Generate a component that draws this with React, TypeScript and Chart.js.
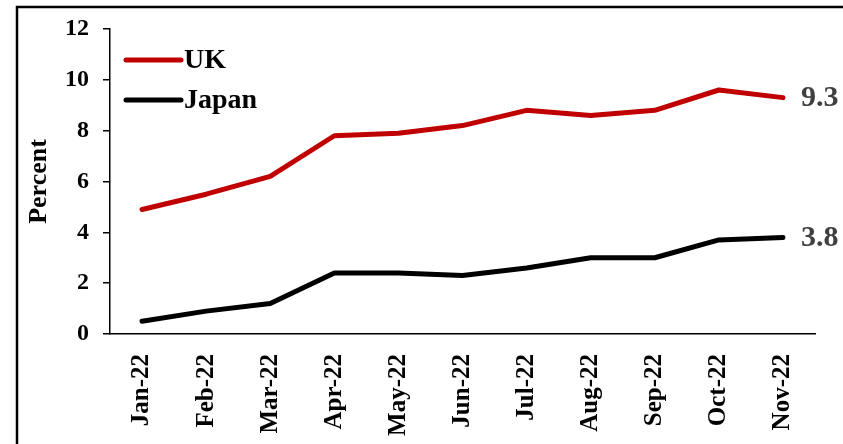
import React, { useEffect, useRef } from "react";
import { Chart, registerables } from "chart.js";

Chart.register(...registerables);

const categories = ["Jan-22", "Feb-22", "Mar-22", "Apr-22", "May-22", "Jun-22", "Jul-22", "Aug-22", "Sep-22", "Oct-22", "Nov-22"];
const ukValues = [4.9, 5.5, 6.2, 7.8, 7.9, 8.2, 8.8, 8.6, 8.8, 9.6, 9.3];
const japanValues = [0.5, 0.9, 1.2, 2.4, 2.4, 2.3, 2.6, 3.0, 3.0, 3.7, 3.8];
const seriesNames = ["UK", "Japan"];
const seriesColors = ["#C00000", "#000000"];
const endLabels = ["9.3", "3.8"];

const FONT = "'Liberation Serif', 'Times New Roman', serif";

const framePlugin = {
  id: "frame",
  afterDraw(chart: any) {
    const ctx = chart.ctx;
    ctx.save();
    ctx.strokeStyle = "#000";
    ctx.lineWidth = 2.5;
    ctx.strokeRect(17, 7, 1000, 1000);
    ctx.restore();
  },
};

const legendPlugin = {
  id: "customLegend",
  afterDraw(chart: any) {
    const ctx = chart.ctx;
    const area = chart.chartArea;
    ctx.save();
    chart.data.datasets.forEach((ds: any, i: number) => {
      const y = area.top + 31 + i * 40;
      const x0 = area.left + 16;
      ctx.strokeStyle = ds.borderColor;
      ctx.lineWidth = 5;
      ctx.lineCap = "round";
      ctx.beginPath();
      ctx.moveTo(x0, y);
      ctx.lineTo(x0 + 55, y);
      ctx.stroke();
      ctx.fillStyle = "#000";
      ctx.font = `bold 28px ${FONT}`;
      ctx.textAlign = "left";
      ctx.textBaseline = "middle";
      ctx.fillText(ds.label, x0 + 58, y + 1);
    });
    ctx.restore();
  },
};

const endLabelPlugin = {
  id: "endLabels",
  afterDatasetsDraw(chart: any) {
    const ctx = chart.ctx;
    ctx.save();
    ctx.fillStyle = "#404040";
    ctx.font = `bold 30px ${FONT}`;
    ctx.textAlign = "left";
    ctx.textBaseline = "middle";
    chart.data.datasets.forEach((ds: any, i: number) => {
      const meta = chart.getDatasetMeta(i);
      const pt = meta.data[meta.data.length - 1];
      ctx.fillText(endLabels[i], pt.x + 18, pt.y + 1);
    });
    ctx.restore();
  },
};

export default function App() {
  const ref = useRef<HTMLCanvasElement | null>(null);
  useEffect(() => {
    if (!ref.current) return;
    const chart = new Chart(ref.current, {
      type: "line",
      data: {
        labels: categories,
        datasets: [ukValues, japanValues].map((vals, i) => ({
          label: seriesNames[i],
          data: vals,
          borderColor: seriesColors[i],
          backgroundColor: seriesColors[i],
          borderWidth: 5,
          borderCapStyle: "round",
          borderJoinStyle: "round",
          pointRadius: 0,
          tension: 0,
        })),
      },
      options: {
        responsive: false,
        animation: false,
        layout: { padding: { left: 20, top: 29, right: 28, bottom: 0 } },
        plugins: { legend: { display: false }, tooltip: { enabled: false } },
        scales: {
          x: {
            offset: true,
            grid: { display: false },
            border: { display: true, color: "#000", width: 1.5 },
            ticks: {
              color: "#000",
              font: { family: FONT, size: 25, weight: "bold" },
              minRotation: 90,
              maxRotation: 90,
              padding: 12,
              autoSkip: false,
            },
            afterFit(scale: any) {
              scale.height = 110;
            },
          },
          y: {
            min: 0,
            max: 12,
            grid: { drawOnChartArea: false, drawTicks: true, tickLength: 7, color: "#000", lineWidth: 1.5 },
            border: { display: true, color: "#000", width: 1.5 },
            ticks: {
              stepSize: 2,
              color: "#000",
              font: { family: FONT, size: 24, weight: "bold" },
              padding: 14,
            },
            title: {
              display: true,
              text: "Percent",
              color: "#000",
              font: { family: FONT, size: 26, weight: "bold" },
              padding: { top: 4, bottom: 0 },
            },
            afterFit(scale: any) {
              scale.width = 90;
            },
          },
        },
      },
      plugins: [framePlugin, legendPlugin, endLabelPlugin],
    } as any);
    return () => chart.destroy();
  }, []);
  return (
    <div style={{ position: "fixed", left: 0, top: 0, width: 843, height: 444, background: "#fff" }}>
      <canvas ref={ref} width={843} height={444} style={{ display: "block" }} />
    </div>
  );
}
